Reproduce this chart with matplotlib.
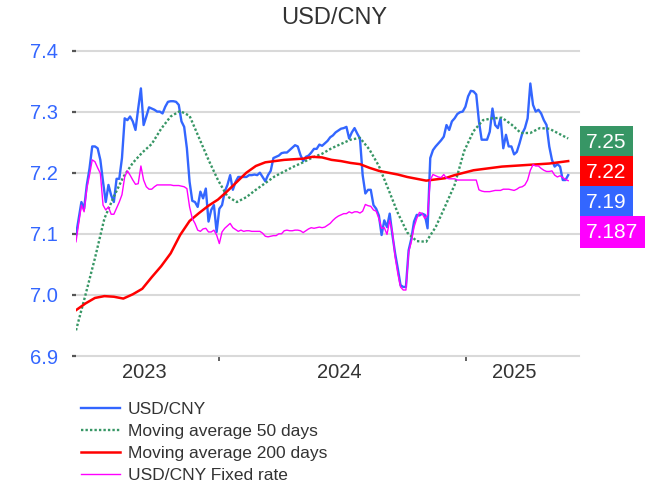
import pandas as pd
import matplotlib
matplotlib.use("Agg")
import matplotlib.pyplot as plt
import matplotlib.dates as mdates

plt.rcParams['font.family'] = ['Liberation Sans', 'DejaVu Sans']

# ---------------- data ----------------
title = "USD/CNY"
series_names = ["USD/CNY", "Moving average 50 days",
                "Moving average 200 days", "USD/CNY Fixed rate"]
start_date = "2023-06-04"

usd_cny = [
    7.098, 7.125, 7.152, 7.141, 7.180, 7.207, 7.243, 7.243, 7.240, 7.221,
    7.185, 7.152, 7.180, 7.163, 7.152, 7.190, 7.190, 7.224, 7.289, 7.286,
    7.292, 7.284, 7.270, 7.305, 7.338, 7.278, 7.292, 7.307, 7.305, 7.303,
    7.300, 7.300, 7.297, 7.308, 7.316, 7.317, 7.317, 7.316, 7.311, 7.284,
    7.275, 7.240, 7.185, 7.154, 7.152, 7.144, 7.169, 7.158, 7.174, 7.120,
    7.139, 7.147, 7.103, 7.141, 7.147, 7.169, 7.180, 7.196, 7.172, 7.185,
    7.193, 7.193, 7.193, 7.193, 7.196, 7.196, 7.197, 7.196, 7.200, 7.193,
    7.186, 7.196, 7.203, 7.224, 7.226, 7.228, 7.232, 7.233, 7.233, 7.237,
    7.241, 7.245, 7.243, 7.229, 7.219, 7.226, 7.228, 7.233, 7.239, 7.239,
    7.246, 7.244, 7.248, 7.252, 7.258, 7.261, 7.266, 7.269, 7.272, 7.273,
    7.275, 7.256, 7.266, 7.273, 7.264, 7.256, 7.196, 7.166, 7.172, 7.172,
    7.147, 7.141, 7.130, 7.098, 7.122, 7.111, 7.133, 7.098, 7.068, 7.043,
    7.016, 7.013, 7.013, 7.073, 7.092, 7.120, 7.131, 7.130, 7.133, 7.131,
    7.109, 7.224, 7.237, 7.243, 7.248, 7.253, 7.259, 7.278, 7.270, 7.284,
    7.289, 7.296, 7.299, 7.300, 7.308, 7.325, 7.334, 7.333, 7.328, 7.284,
    7.254, 7.254, 7.254, 7.267, 7.305, 7.278, 7.273, 7.289, 7.240, 7.262,
    7.243, 7.243, 7.230, 7.234, 7.248, 7.264, 7.273, 7.289, 7.346, 7.311,
    7.300, 7.303, 7.297, 7.286, 7.278, 7.243, 7.221, 7.210, 7.214, 7.210,
    7.188, 7.188, 7.196,
]

fixed_rate = [
    7.087, 7.117, 7.147, 7.136, 7.174, 7.196, 7.221, 7.218, 7.208, 7.199,
    7.147, 7.139, 7.144, 7.132, 7.132, 7.142, 7.152, 7.164, 7.193, 7.203,
    7.196, 7.188, 7.181, 7.182, 7.211, 7.188, 7.177, 7.173, 7.173, 7.177,
    7.180, 7.180, 7.180, 7.180, 7.180, 7.180, 7.179, 7.179, 7.179, 7.178,
    7.177, 7.174, 7.144, 7.125, 7.117, 7.106, 7.104, 7.108, 7.109, 7.103,
    7.103, 7.106, 7.098, 7.084, 7.103, 7.109, 7.113, 7.117, 7.110, 7.107,
    7.104, 7.106, 7.104, 7.105, 7.105, 7.104, 7.104, 7.104, 7.104, 7.101,
    7.096, 7.095, 7.096, 7.097, 7.097, 7.100, 7.100, 7.105, 7.106, 7.105,
    7.105, 7.106, 7.106, 7.105, 7.102, 7.105, 7.108, 7.110, 7.109, 7.110,
    7.111, 7.110, 7.111, 7.114, 7.117, 7.122, 7.126, 7.129, 7.131, 7.133,
    7.133, 7.136, 7.134, 7.136, 7.136, 7.134, 7.137, 7.148, 7.146, 7.145,
    7.139, 7.137, 7.125, 7.109, 7.110, 7.099, 7.122, 7.103, 7.062, 7.035,
    7.013, 7.008, 7.008, 7.070, 7.087, 7.111, 7.125, 7.135, 7.133, 7.125,
    7.131, 7.188, 7.197, 7.195, 7.193, 7.192, 7.197, 7.191, 7.190, 7.190,
    7.190, 7.188, 7.188, 7.188, 7.188, 7.188, 7.188, 7.188, 7.188, 7.172,
    7.170, 7.169, 7.169, 7.169, 7.170, 7.171, 7.171, 7.171, 7.173, 7.173,
    7.173, 7.172, 7.171, 7.173, 7.176, 7.177, 7.180, 7.188, 7.204, 7.213,
    7.211, 7.211, 7.207, 7.204, 7.202, 7.202, 7.203, 7.196, 7.193, 7.195,
    7.192, 7.189, 7.187,
]

ma50 = [
    6.942, 7.000, 7.060, 7.125, 7.161, 7.193, 7.216, 7.233, 7.247, 7.272,
    7.292, 7.301, 7.293, 7.257, 7.221, 7.188, 7.161, 7.152, 7.160, 7.172,
    7.183, 7.194, 7.202, 7.210, 7.217, 7.225, 7.231, 7.240, 7.247, 7.254,
    7.257, 7.238, 7.211, 7.173, 7.134, 7.102, 7.088, 7.087, 7.111, 7.145,
    7.180, 7.235, 7.268, 7.286, 7.289, 7.290, 7.279, 7.265, 7.265, 7.273,
    7.272, 7.264, 7.256,
]

ma200 = [
    6.975, 6.986, 6.995, 6.998, 6.997, 6.994, 7.001, 7.010, 7.029, 7.047,
    7.068, 7.098, 7.121, 7.134, 7.146, 7.156, 7.170, 7.185, 7.200, 7.211,
    7.217, 7.219, 7.221, 7.222, 7.223, 7.226, 7.225, 7.221, 7.219, 7.216,
    7.214, 7.208, 7.203, 7.200, 7.197, 7.193, 7.190, 7.187, 7.189, 7.191,
    7.196, 7.200, 7.204, 7.206, 7.208, 7.210, 7.211, 7.212, 7.213, 7.214,
    7.215, 7.217, 7.219,
]

last_labels = ["7.25", "7.22", "7.19", "7.187"]
y_ticks = [6.9, 7.0, 7.1, 7.2, 7.3, 7.4]

# ---------------- style ----------------
c_blue = "#3366ff"
c_green = "#379665"
c_red = "#ff0000"
c_mag = "#ff00ff"
c_text = "#333333"
c_grid = "#d9d9d9"

dates = pd.date_range(start_date, periods=len(usd_cny), freq="4D")
ma_dates = pd.date_range(start_date, periods=len(ma50), freq="14D")

fig = plt.figure(figsize=(6.56, 4.92), dpi=100)
ax = fig.add_axes([76 / 656, 1 - 356 / 492, 503 / 656, 305.5 / 492])

l1, = ax.plot(dates, usd_cny, color=c_blue, lw=1.7, label=series_names[0], zorder=3)
l2, = ax.plot(ma_dates, ma50, color=c_green, lw=1.7, dashes=(1.0, 0.9),
              label=series_names[1], zorder=4)
l3, = ax.plot(ma_dates, ma200, color=c_red, lw=1.8, label=series_names[2], zorder=5)
l4, = ax.plot(dates, fixed_rate, color=c_mag, lw=1.0, label=series_names[3], zorder=6)

ax.set_ylim(y_ticks[0], y_ticks[-1])
x0 = dates[0]
x_end = dates[-1]
x1 = x_end + pd.Timedelta(days=16)
ax.set_xlim(x0, x1)

for s in ax.spines.values():
    s.set_visible(False)

ax.set_yticks(y_ticks)
ax.set_yticklabels([f"{v:.1f}" for v in y_ticks])
ax.tick_params(axis="y", length=3, width=1.6, color="#555555", pad=10,
               labelsize=14.5, labelcolor=c_blue)
ax.yaxis.grid(True, color=c_grid, lw=1.5)
for gl in ax.get_ygridlines():
    gl.set_clip_on(False)
ax.set_axisbelow(True)

# year boundaries as minor ticks, year labels centred in the span covered by data
years = range(x0.year, x1.year + 1)
bounds = [pd.Timestamp(f"{y}-01-01") for y in years if pd.Timestamp(f"{y}-01-01") > x0]
mids = []
labels = []
for y in years:
    a = max(pd.Timestamp(f"{y}-01-01"), x0)
    b = min(pd.Timestamp(f"{y + 1}-01-01"), x_end)
    mids.append(a + (b - a) / 2 - pd.Timedelta(days=4))
    labels.append(str(y))
ax.set_xticks(mids)
ax.set_xticklabels(labels)
ax.set_xticks(bounds, minor=True)
ax.tick_params(axis="x", which="major", length=0, pad=5, labelsize=14.5,
               labelcolor=c_text)
ax.tick_params(axis="x", which="minor", length=3.5, width=1.3, color="#555555")

fig.text(334 / 656, 1 - 18 / 492, title, ha="center", va="center",
         fontsize=17, color=c_text)

# last-value boxes stacked on the right
box_colors = [c_green, c_red, c_blue, c_mag]
anchor_val = float(last_labels[0])
for k, (lab, col) in enumerate(zip(last_labels, box_colors)):
    ax.annotate(lab, xy=(1, anchor_val), xycoords=("axes fraction", "data"),
                xytext=(7, -30 * k), textcoords="offset pixels",
                ha="left", va="center", fontsize=15, color="white",
                annotation_clip=False, zorder=10,
                bbox=dict(boxstyle="square,pad=0.31", fc=col, ec="none"))

leg = fig.legend(handles=[l1, l2, l3, l4], loc="upper left",
                 bbox_to_anchor=(81 / 656, 1 - 402 / 492), frameon=False,
                 fontsize=12.5, handlelength=2.25, handletextpad=0.45,
                 labelspacing=0.4, borderpad=0, borderaxespad=0)
for t in leg.get_texts():
    t.set_color(c_text)

fig.savefig("out.png", dpi=100)
